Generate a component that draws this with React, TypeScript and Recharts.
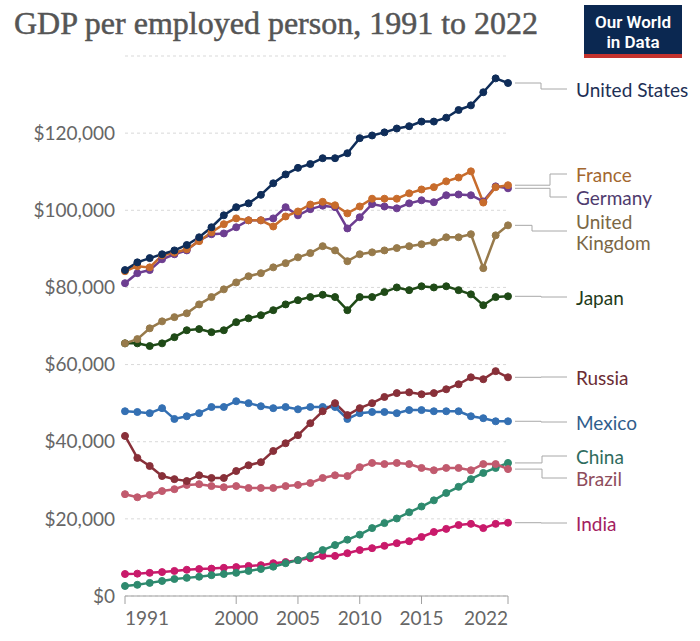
import { LineChart, Line, XAxis, YAxis, CartesianGrid } from 'recharts'

const years = [
	1991, 1992, 1993, 1994, 1995, 1996, 1997, 1998, 1999, 2000, 2001, 2002, 2003, 2004, 2005, 2006,
	2007, 2008, 2009, 2010, 2011, 2012, 2013, 2014, 2015, 2016, 2017, 2018, 2019, 2020, 2021, 2022,
]

const unitedStates = [
	84500, 86500, 87600, 88600, 89600, 91000, 93000, 95600, 98700, 100800, 101800, 104000, 107000, 109300, 111000, 112000,
	113500, 113500, 114800, 118700, 119400, 120200, 121200, 121800, 123000, 123000, 124000, 126000, 127200, 130600, 134200, 133000,
]
const france = [
	84200, 85500, 85200, 88300, 89000, 89900, 92000, 94300, 96400, 97900, 97400, 97400, 95800, 98400, 99700, 101500,
	102200, 101300, 99200, 101000, 103000, 103000, 103000, 104400, 105400, 106000, 107500, 108500, 110100, 102000, 106000, 106500,
]
const germany = [
	81100, 83700, 84500, 87300, 88600, 89600, 92200, 93800, 94000, 95600, 97400, 97400, 97900, 100800, 98700, 100300,
	101200, 100800, 95300, 98200, 101600, 101000, 100500, 101800, 102600, 102100, 103900, 104100, 103900, 102300, 106200, 105700,
]
const unitedKingdom = [
	65500, 66600, 69400, 71200, 72300, 73300, 75600, 77500, 79500, 81300, 82900, 83700, 85200, 86300, 87800, 88900,
	90700, 89600, 86800, 88600, 89100, 89600, 90200, 90700, 91200, 91700, 93000, 93000, 93800, 85000, 93500, 96100,
]
const japan = [
	65500, 65500, 64800, 65500, 67100, 68900, 69200, 68400, 68900, 71000, 72000, 72800, 74100, 75600, 76700, 77500,
	78100, 77500, 74100, 77500, 77500, 78800, 80000, 79300, 80300, 80000, 80300, 79300, 78200, 75400, 77500, 77700,
]
const russia = [
	41500, 35800, 33700, 31100, 30300, 29800, 31300, 30600, 30600, 32400, 33900, 34700, 37600, 39600, 41700, 44800,
	47900, 50000, 46900, 48700, 50000, 51600, 52600, 52800, 52300, 52600, 53600, 54900, 56700, 56200, 58300, 56700,
]
const mexico = [
	47900, 47700, 47400, 48700, 45900, 46600, 47400, 49000, 49000, 50500, 50000, 49200, 48700, 49000, 48400, 49000,
	49000, 49000, 45900, 47400, 47700, 47700, 47400, 48200, 48200, 47900, 47900, 47900, 46600, 46100, 45300, 45300,
]
const china = [
	2600, 2900, 3400, 3900, 4400, 4700, 5000, 5400, 5700, 6000, 6500, 7000, 7600, 8500, 9300, 10400,
	11900, 13200, 14600, 15900, 17600, 18900, 20100, 21700, 23200, 24800, 26700, 28300, 30300, 31900, 33200, 34500,
]
const brazil = [
	26400, 25600, 26200, 27200, 27700, 28800, 29000, 28500, 28200, 28500, 28000, 28000, 28000, 28500, 28800, 29300,
	30600, 31300, 31100, 33400, 34500, 34200, 34500, 34200, 33200, 32600, 33200, 33200, 32600, 34200, 34200, 32900,
]
const india = [
	5700, 5800, 6000, 6200, 6500, 6800, 7000, 7100, 7300, 7500, 7800, 8000, 8500, 8800, 9300, 9800,
	10400, 10400, 11100, 11900, 12400, 13000, 13700, 14200, 15300, 16600, 17400, 18400, 18700, 17600, 18700, 19000,
]

const xTicks = [1991, 2000, 2005, 2010, 2015, 2022]
const yTicks = [0, 20000, 40000, 60000, 80000, 100000, 120000]

const data = years.map((year, i) => ({
	year,
	us: unitedStates[i],
	fr: france[i],
	de: germany[i],
	uk: unitedKingdom[i],
	jp: japan[i],
	ru: russia[i],
	mx: mexico[i],
	cn: china[i],
	br: brazil[i],
	in: india[i],
}))

// drawn bottom to top
const series = [
	{ key: 'in', name: ['India'], color: '#c91a6b', text: '#a3205f', labelY: 523, stepX: 541 },
	{ key: 'cn', name: ['China'], color: '#2e8a6e', text: '#2f6c5e', labelY: 456, stepX: 542 },
	{ key: 'br', name: ['Brazil'], color: '#c15a6e', text: '#8e4c5c', labelY: 478, stepX: 542 },
	{ key: 'mx', name: ['Mexico'], color: '#3470b3', text: '#2f5d8c', labelY: 422, stepX: 541 },
	{ key: 'ru', name: ['Russia'], color: '#883039', text: '#6b2c34', labelY: 377, stepX: 541 },
	{ key: 'jp', name: ['Japan'], color: '#1f4a17', text: '#1f3b1a', labelY: 297, stepX: 541 },
	{ key: 'uk', name: ['United', 'Kingdom'], color: '#977a4b', text: '#7a6745', labelY: 231, stepX: 532 },
	{ key: 'de', name: ['Germany'], color: '#6d3e91', text: '#4f3b6e', labelY: 197, stepX: 550 },
	{ key: 'fr', name: ['France'], color: '#c86c2c', text: '#a3672f', labelY: 174, stepX: 550 },
	{ key: 'us', name: ['United States'], color: '#0f2d59', text: '#1d2f55', labelY: 89, stepX: 541 },
]

const last = years.length - 1

const endLabel = (s: (typeof series)[number]) => (props: any) => {
	const { x, y, index } = props
	if (index !== last) return <g />
	const lines = s.name
	const first = s.labelY - ((lines.length - 1) * 21) / 2
	return (
		<g>
			<path
				d={`M${x + 7},${y}H${s.stepX}V${s.labelY}H567`}
				stroke='#a8a8a8'
				strokeWidth={1}
				fill='none'
			/>
			<text x={576} y={first} fill={s.text} fontSize={19} fontFamily='Lato' dominantBaseline='central'>
				{lines.map((l, i) => (
					<tspan key={l} x={576} y={first + i * 21}>
						{l}
					</tspan>
				))}
			</text>
		</g>
	)
}

const XTick = (props: any) => {
	const { x, y, payload, index } = props
	const anchor = index === 0 ? 'start' : index === xTicks.length - 1 ? 'end' : 'middle'
	return (
		<text x={x} y={y} dy='0.71em' textAnchor={anchor} fill='#666' fontSize={19} fontFamily='Lato'>
			{payload.value}
		</text>
	)
}

export default function App() {
	return (
		<div style={{ position: 'absolute', left: 0, top: 0, width: 700, height: 641, background: '#fff' }}>
			<LineChart width={700} height={641} data={data} margin={{ top: 56, right: 192, bottom: 0, left: 10 }}>
				<CartesianGrid vertical={false} strokeDasharray='3 3' stroke='#d9d9d9' />
				<XAxis
					dataKey='year'
					type='number'
					domain={[1991, 2022]}
					ticks={xTicks}
					height={45}
					tickSize={8}
					tickMargin={8}
					stroke='#a0a0a0'
					tick={<XTick />}
				/>
				<YAxis
					domain={[0, 140000]}
					ticks={yTicks}
					width={115}
					axisLine={false}
					tickLine={false}
					tickSize={0}
					tickMargin={10}
					tickFormatter={(v: number) => '$' + v.toLocaleString('en-US')}
					tick={{ fill: '#666', fontSize: 19, fontFamily: 'Lato' }}
				/>
				{series.map((s) => (
					<Line
						key={s.key}
						dataKey={s.key}
						stroke={s.color}
						strokeWidth={2.5}
						dot={{ r: 3.5, fill: s.color, stroke: s.color, strokeWidth: 1 }}
						activeDot={false}
						isAnimationActive={false}
						label={endLabel(s)}
					/>
				))}
			</LineChart>
			<svg width={700} height={641} style={{ position: 'absolute', left: 0, top: 0, pointerEvents: 'none' }}>
				<text x={14} y={34} fill='#555' stroke='#555' strokeWidth={0.5} fontSize={32} fontFamily='Liberation Serif'>
					GDP per employed person, 1991 to 2022
				</text>
				<rect x={584} y={5} width={98} height={50} fill='#0b2851' />
				<rect x={584} y={54} width={98} height={4} fill='#c4322d' />
				<text x={633} y={28} textAnchor='middle' fill='#fff' fontSize={17} fontWeight={600} fontFamily='Roboto'>
					Our World
				</text>
				<text x={633} y={48} textAnchor='middle' fill='#fff' fontSize={17} fontWeight={600} fontFamily='Roboto'>
					in Data
				</text>
			</svg>
		</div>
	)
}
